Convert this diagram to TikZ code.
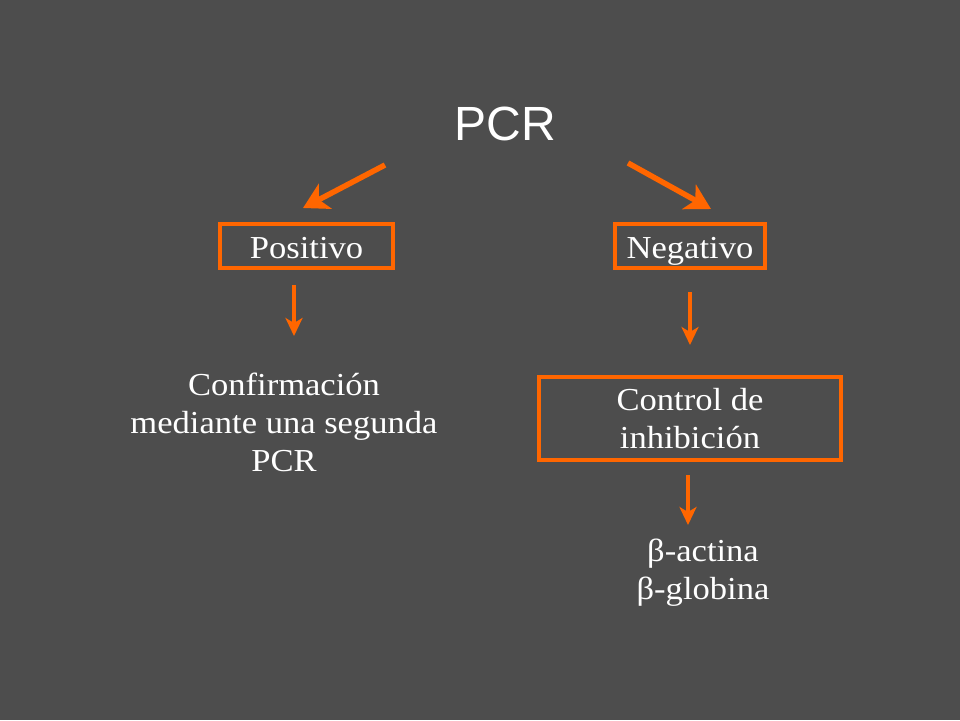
\documentclass[tikz,border=0pt]{standalone}
\usepackage{fontspec}
\setmainfont[FakeStretch=1.08]{Liberation Serif}
\newfontfamily\pcrfont{Liberation Sans}
\usepackage{tikz}
\usetikzlibrary{arrows.meta}
\definecolor{fondo}{HTML}{4D4D4D}
\definecolor{naranja}{HTML}{FF6600}

\begin{document}
\begin{tikzpicture}[x=1pt, y=-1pt, every node/.style={text=white, font=\fontsize{32}{38}\selectfont}]
        \tikzset{caja/.style={draw=naranja, line width=3.5pt, inner sep=0pt}}
        \fill[fondo] (0,0) rectangle (960,720);
        \useasboundingbox (0,0) rectangle (960,720);
        \node[font=\pcrfont\fontsize{48}{48}\selectfont, anchor=base] (pcr) at (505, 140) {PCR};
        \node[caja, text height=24pt, text depth=0pt, minimum width=173pt, minimum height=44pt] (pos) at (306.5, 246) {Positivo};
        \node[caja, text height=24pt, text depth=0pt, minimum width=150pt, minimum height=44pt] (neg) at (690, 246) {Negativo};
        \node[align=center] (conf) at (284, 422.5) {Confirmación\\mediante una segunda\\PCR};
        \node[caja, align=center, minimum width=302pt, minimum height=83pt] (ctrl) at (690, 418.5) {Control de\\inhibición};
        \node[align=center] (beta) at (703, 572.5) {β-actina\\β-globina};
        % arrow ends
        \coordinate (pcrL) at (385, 165);
        \coordinate (posT) at (303, 208);
        \coordinate (pcrR) at (628, 163);
        \coordinate (negT) at (711, 209);
        \coordinate (posB) at (294, 285);
        \coordinate (confT) at (294, 336);
        \coordinate (negB) at (690, 292);
        \coordinate (ctrlT) at (690, 345);
        \coordinate (ctrlB) at (688, 475);
        \coordinate (betaT) at (688, 525);
        \tikzset{flecha/.style={-{Stealth[length=25pt, width=28pt, inset=7pt]}, draw=naranja, line width=5.5pt}};
        \tikzset{flechita/.style={-{Stealth[length=18pt, width=17pt, inset=5pt]}, draw=naranja, line width=3.5pt}};
        \path (pcrL) edge [flecha] (posT);
        \path (pcrR) edge [flecha] (negT);
        \path (posB) edge [flechita] (confT);
        \path (negB) edge [flechita] (ctrlT);
        \path (ctrlB) edge [flechita] (betaT);
      \end{tikzpicture}
\end{document}
